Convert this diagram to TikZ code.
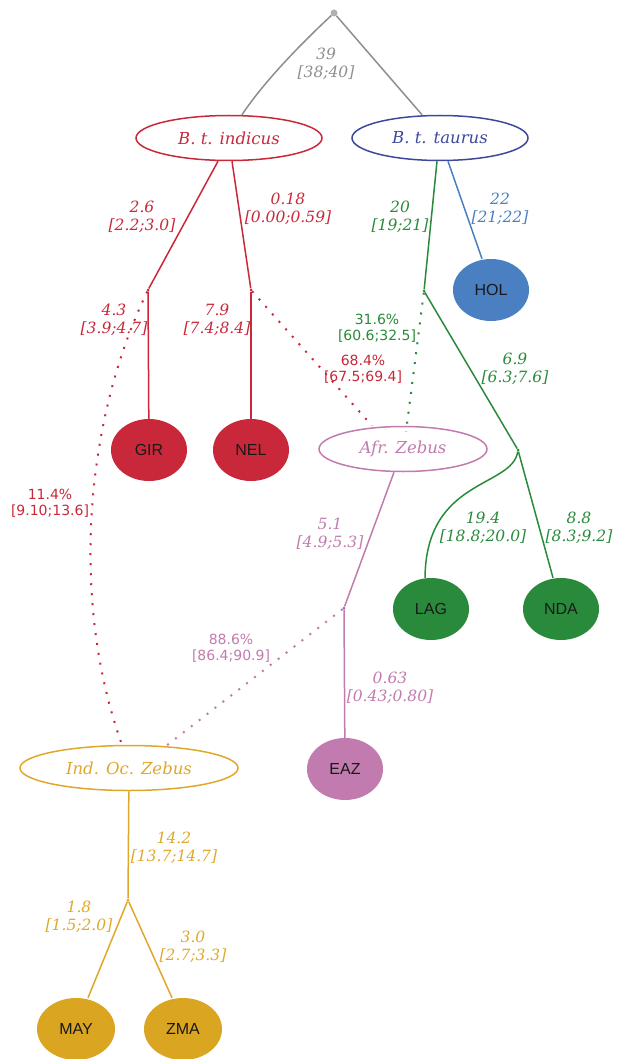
\documentclass[tikz,border=0pt]{standalone}
\usepackage{fontspec}
\usetikzlibrary{shapes.geometric}
\newfontfamily\dvserif{DejaVu Serif}
\newfontfamily\dvsans{DejaVu Sans}
\newfontfamily\libsans{Liberation Sans}
\definecolor{cred}{HTML}{C8283A}
\definecolor{cgreen}{HTML}{2A8A3C}
\definecolor{cblue}{HTML}{4A7FC1}
\definecolor{cnavy}{HTML}{3D4A9C}
\definecolor{cpink}{HTML}{C27BAE}
\definecolor{corange}{HTML}{E0A82A}
\definecolor{cgold}{HTML}{DAA520}
\definecolor{cgrey}{HTML}{8E8E8E}
\begin{document}
\begin{tikzpicture}[x=1pt,y=-1pt,
  pop/.style={ellipse,draw,line width=1.5pt,fill=white,inner sep=0pt,minimum height=45pt,font=\dvserif\itshape\fontsize{16.5}{18}\selectfont},
  leaf/.style={ellipse,inner sep=0pt,minimum width=76pt,minimum height=62pt,font=\libsans\fontsize{16}{18}\selectfont,text=black!90},
  blab/.style={align=center,font=\dvserif\itshape\fontsize{15.5}{18.5}\selectfont,inner sep=0pt},
  plab/.style={align=center,font=\dvsans\fontsize{14}{15.5}\selectfont,inner sep=0pt},
  br/.style={line width=1.5pt},
  adm/.style={line width=2pt,dash pattern=on 2pt off 8pt},
  junc/.style={circle,inner sep=0pt,minimum size=3pt,fill}
]
\useasboundingbox (0,0) rectangle (624,1059);

% root
\node[circle,fill=cgrey!70,minimum size=7pt,inner sep=0pt] (root) at (334,13) {};
\node[blab,text=cgrey] (l39) at (326,64) {39\\{}[38;40]};

% population ellipses
\node[pop,draw=cred,text=cred,minimum width=186pt] (ind) at (229,138) {B. t. indicus};
\node[pop,draw=cnavy,text=cnavy,minimum width=176pt] (tau) at (440,138) {B. t. taurus};
\node[pop,draw=cpink,text=cpink,minimum width=168pt] (afr) at (403,449) {Afr. Zebus};
\node[pop,draw=corange,text=corange,minimum width=218pt] (ioz) at (129,768) {Ind. Oc. Zebus};

% junctions
\node[junc,fill=cred] (nA) at (148,290) {};
\node[junc,fill=cred] (nB) at (251,290) {};
\node[junc,fill=cgreen] (nC) at (424,291) {};
\node[junc,fill=cgreen] (nD) at (518,450) {};
\node[junc,fill=cpink!80!blue] (nE) at (344,608) {};
\node[junc,fill=corange] (nF) at (128,900) {};

% leaves
\node[leaf,fill=cred] (gir) at (149,450) {GIR};
\node[leaf,fill=cred] (nel) at (251,450) {NEL};
\node[leaf,fill=cblue] (hol) at (491,290) {HOL};
\node[leaf,fill=cgreen] (lag) at (431,609) {LAG};
\node[leaf,fill=cgreen] (nda) at (561,609) {NDA};
\node[leaf,fill=cpink] (eaz) at (345,769) {EAZ};
\node[leaf,fill=cgold,minimum width=78pt] (may) at (76,1029) {MAY};
\node[leaf,fill=cgold,minimum width=78pt] (zma) at (183,1029) {ZMA};

% root branches
\draw[br,cgrey] (root) .. controls (305,40) and (265,80) .. ([xshift=13pt]ind.north);
\draw[br,cgrey] (root) -- ([xshift=-18pt]tau.north);

% indicus branches
\draw[br,cred] ([xshift=-11pt]ind.south) -- (nA);
\draw[br,cred] ([xshift=3pt]ind.south) -- (nB);
\draw[br,cred] (nA) -- (gir);
\draw[br,cred] (nB) -- (nel);
\node[blab,text=cred] at (142,217) {2.6\\{}[2.2;3.0]};
\node[blab,text=cred] at (288,209) {0.18\\{}[0.00;0.59]};
\node[blab,text=cred] at (114,320) {4.3\\{}[3.9;4.7]};
\node[blab,text=cred] at (217,320) {7.9\\{}[7.4;8.4]};

% taurus branches
\draw[br,cgreen] ([xshift=-3pt]tau.south) -- (nC);
\draw[br,cblue] ([xshift=8pt]tau.south) -- ([xshift=-9pt]hol.north);
\draw[br,cgreen] (nC) -- (nD);
\draw[br,cgreen] (nD) .. controls (512,488) and (426,478) .. ([xshift=-6pt]lag.north);
\draw[br,cgreen] (nD) -- ([xshift=-8pt]nda.north);
\node[blab,text=cgreen] at (400,217) {20\\{}[19;21]};
\node[blab,text=cblue] at (500,209) {22\\{}[21;22]};
\node[blab,text=cgreen] at (515,369) {6.9\\{}[6.3;7.6]};
\node[blab,text=cgreen] at (483,528) {19.4\\{}[18.8;20.0]};
\node[blab,text=cgreen] at (579,528) {8.8\\{}[8.3;9.2]};

% african zebus
\draw[br,cpink] ([xshift=-9pt]afr.south) -- (nE);
\draw[br,cpink] (nE) -- (eaz);
\node[blab,text=cpink] at (330,534) {5.1\\{}[4.9;5.3]};
\node[blab,text=cpink] at (390,688) {0.63\\{}[0.43;0.80]};

% indian ocean zebus
\draw[br,corange] (ioz) -- (nF);
\draw[br,corange] (nF) -- ([xshift=12pt]may.north);
\draw[br,corange] (nF) -- ([xshift=-11pt]zma.north);
\node[blab,text=corange] at (174,848) {14.2\\{}[13.7;14.7]};
\node[blab,text=corange] at (79,917) {1.8\\{}[1.5;2.0]};
\node[blab,text=corange] at (193,947) {3.0\\{}[2.7;3.3]};

% admixture edges
\draw[adm,cred] (nA) .. controls (85,420) and (70,600) .. ([xshift=-7pt]ioz.north);
\draw[adm,cred] (nB) -- ([xshift=-31pt]afr.north);
\draw[adm,cgreen] (nC) -- ([xshift=3pt,yshift=-6pt]afr.north);
\draw[adm,cpink] (nE) -- ([xshift=36pt,yshift=-2pt]ioz.north);
\node[plab,text=cred] at (50,503) {11.4\%\\{}[9.10;13.6]};
\node[plab,text=cred] at (363,369) {68.4\%\\{}[67.5;69.4]};
\node[plab,text=cgreen] at (377,328) {31.6\%\\{}[60.6;32.5]};
\node[plab,text=cpink] at (231,648) {88.6\%\\{}[86.4;90.9]};
\end{tikzpicture}
\end{document}
